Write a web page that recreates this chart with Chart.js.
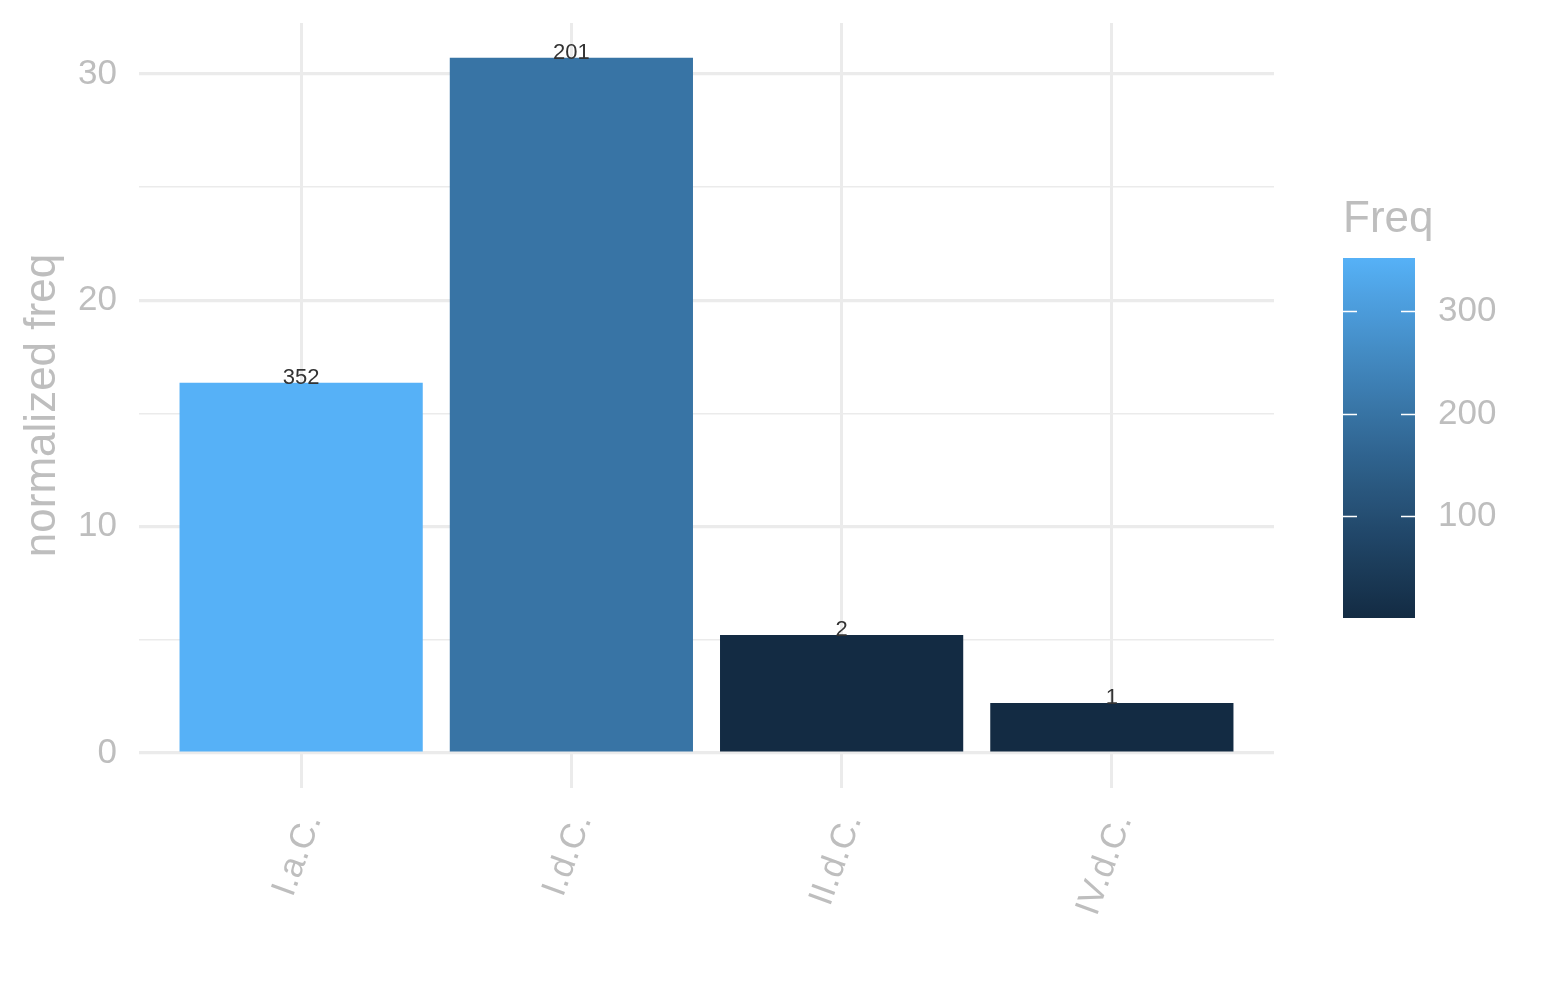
<!DOCTYPE html>
<html><head><meta charset="utf-8">
<script src="https://cdn.jsdelivr.net/npm/chart.js@4/dist/chart.umd.min.js"></script>
<style>html,body{margin:0;padding:0;background:#fff;} #wrap{width:1545px;height:1000px;position:relative;}</style>
</head><body><div id="wrap"><canvas id="c"></canvas></div>
<script>
const categories = ['I.a.C.', 'I.d.C.', 'II.d.C.', 'IV.d.C.'];
const normFreq = [16.36, 30.71, 5.21, 2.21];
const freq = [352, 201, 2, 1];
const yTicks = [0, 5, 10, 15, 20, 25, 30];
const legendTicks = [100, 200, 300];
const freqMin = 1, freqMax = 352;
const lowColor = '#132B43', highColor = '#56B1F7';

const GRAY = '#BEBEBE';
const FONT = "'Liberation Sans', Arial, Helvetica, sans-serif";

// Lab colour interpolation (like ggplot's seq_gradient_pal)
function hexToRgb(h){return [1,3,5].map(i=>parseInt(h.slice(i,i+2),16));}
function toLin(c){c/=255;return c<=0.04045?c/12.92:Math.pow((c+0.055)/1.055,2.4);}
function fromLin(c){const v=c<=0.0031308?12.92*c:1.055*Math.pow(c,1/2.4)-0.055;return Math.round(Math.min(1,Math.max(0,v))*255);}
function rgbToLab(rgb){
  const [r,g,b]=rgb.map(toLin);
  const X=(0.4124564*r+0.3575761*g+0.1804375*b)/0.95047;
  const Y=(0.2126729*r+0.7151522*g+0.0721750*b);
  const Z=(0.0193339*r+0.1191920*g+0.9503041*b)/1.08883;
  const f=t=>t>0.008856?Math.cbrt(t):7.787*t+16/116;
  const fx=f(X),fy=f(Y),fz=f(Z);
  return [116*fy-16,500*(fx-fy),200*(fy-fz)];
}
function labToRgb(lab){
  const [L,a,bb]=lab;
  const fy=(L+16)/116,fx=fy+a/500,fz=fy-bb/200;
  const fi=t=>{const t3=t*t*t;return t3>0.008856?t3:(t-16/116)/7.787;};
  const X=fi(fx)*0.95047,Y=fi(fy),Z=fi(fz)*1.08883;
  const r=3.2404542*X-1.5371385*Y-0.4985314*Z;
  const g=-0.9692660*X+1.8760108*Y+0.0415560*Z;
  const b=0.0556434*X-0.2040259*Y+1.0572252*Z;
  return [fromLin(r),fromLin(g),fromLin(b)];
}
const labLow=rgbToLab(hexToRgb(lowColor)), labHigh=rgbToLab(hexToRgb(highColor));
function colorAt(t){
  t=Math.min(1,Math.max(0,t));
  const lab=labLow.map((v,i)=>v+(labHigh[i]-v)*t);
  const [r,g,b]=labToRgb(lab);
  return `rgb(${r},${g},${b})`;
}
function colorFor(v){return colorAt((v-freqMin)/(freqMax-freqMin));}

const barData = categories.map((c,i)=>({x:i, y:normFreq[i]}));
const barColors = freq.map(colorFor);

const overlay = {
  id:'overlay',
  afterDatasetsDraw(chart){
    const ctx=chart.ctx;
    const meta=chart.getDatasetMeta(0);
    ctx.save();
    ctx.fillStyle='#333333';
    ctx.font=`22px ${FONT}`;
    ctx.textAlign='center';
    ctx.textBaseline='alphabetic';
    meta.data.forEach((bar,i)=>{ ctx.fillText(String(freq[i]), bar.x, bar.y+1); });
    ctx.restore();
  },
  afterDraw(chart){
    const ctx=chart.ctx, ca=chart.chartArea;
    const left=ca.right+69, w=72, top=258, bottom=618;
    ctx.save();
    ctx.fillStyle=GRAY;
    ctx.font=`44px ${FONT}`;
    ctx.textAlign='left';
    ctx.textBaseline='alphabetic';
    ctx.fillText('Freq', left, 232);
    const grad=ctx.createLinearGradient(0,bottom,0,top);
    for(let k=0;k<=20;k++){grad.addColorStop(k/20,colorAt(k/20));}
    ctx.fillStyle=grad;
    ctx.fillRect(left,top,w,bottom-top);
    const yOf=v=>bottom-(v-freqMin)/(freqMax-freqMin)*(bottom-top);
    ctx.strokeStyle='#FFFFFF';
    ctx.lineWidth=1.5;
    ctx.font=`35px ${FONT}`;
    ctx.textBaseline='middle';
    legendTicks.forEach(v=>{
      const y=Math.round(yOf(v))+0.5;
      ctx.beginPath();
      ctx.moveTo(left,y);ctx.lineTo(left+14,y);
      ctx.moveTo(left+w-14,y);ctx.lineTo(left+w,y);
      ctx.stroke();
      ctx.fillStyle=GRAY;
      ctx.fillText(String(v), left+95, y);
    });
    ctx.restore();
  }
};

function zeroPad(s){ s.paddingTop=0; s.paddingBottom=0; s.paddingLeft=0; s.paddingRight=0; }

new Chart(document.getElementById('c'), {
  type:'bar',
  data:{
    datasets:[{
      data:barData,
      backgroundColor:barColors,
      borderWidth:0,
      categoryPercentage:1,
      barPercentage:0.9
    }]
  },
  options:{
    responsive:true,
    maintainAspectRatio:false,
    animation:false,
    layout:{padding:{top:23,right:271,bottom:0,left:0}},
    plugins:{legend:{display:false},tooltip:{enabled:false}},
    scales:{
      x:{
        type:'linear',
        min:-0.6, max:3.6,
        offset:false,
        border:{display:false},
        grid:{color:'#EBEBEB',lineWidth:3,drawTicks:false,offset:false},
        afterBuildTicks(s){ s.ticks = categories.map((c,i)=>({value:i})); },
        afterFit(s){ s.height = 212; zeroPad(s); },
        ticks:{
          autoSkip:false,
          minRotation:70, maxRotation:70,
          padding:21,
          labelOffset:11,
          color:GRAY,
          font:{family:FONT,size:35},
          callback:(v)=>categories[v] ?? ''
        }
      },
      y:{
        min:-1.546, max:32.25,
        border:{display:false},
        grid:{color:'#EBEBEB',drawTicks:false,lineWidth:(c)=> (c.tick && c.tick.value%10===0)?3.2:1.6},
        afterBuildTicks(s){ s.ticks = yTicks.map(v=>({value:v})); },
        afterFit(s){ s.width = 139; zeroPad(s); },
        ticks:{
          padding:22,
          color:GRAY,
          font:{family:FONT,size:35},
          callback:(v)=> (v%10===0)?String(v):''
        },
        title:{
          display:true,
          text:'normalized freq',
          color:GRAY,
          font:{family:FONT,size:44},
          padding:{top:16,bottom:0}
        }
      }
    }
  },
  plugins:[overlay]
});
</script>
</body></html>
